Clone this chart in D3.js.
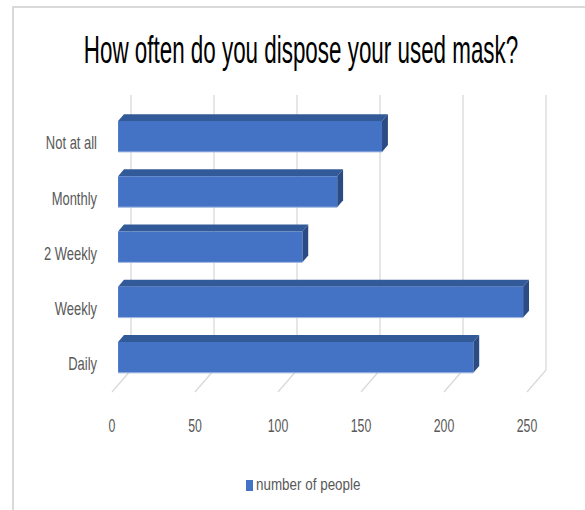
<!DOCTYPE html>
<html><head><meta charset="utf-8">
<script src="https://cdn.jsdelivr.net/npm/d3@7"></script>
<style>
html,body{margin:0;padding:0;background:#fff;}
text{font-family:"Liberation Sans",Arial,sans-serif;}
</style></head>
<body>
<svg id="c" width="585" height="510"></svg>
<script>
const categories = ["Not at all","Monthly","2 Weekly","Weekly","Daily"];
const values = [159, 132, 111, 244, 214];
const ticks = [0, 50, 100, 150, 200, 250];
const seriesName = "number of people";
const title = "How often do you dispose your used mask?";

const svg = d3.select("#c");
// chart border
svg.append("path").attr("d","M13,512 L13,7 L590,7").attr("fill","none").attr("stroke","#d9d9d9").attr("stroke-width",2);

// oblique projection
const x = d3.scaleLinear().domain([0,250]).range([112,527]);
const DX = 19, DY = -22; // full depth offset
const floorY = 392;
const wallTop = 95;
const P = (v, y, z) => [x(v) + z*DX, y + z*DY];

const g = svg.append("g");
// back wall gridlines and floor lines
ticks.forEach(t => {
  const [bx, by] = P(t, floorY, 1);
  g.append("line").attr("x1",bx).attr("x2",bx).attr("y1",wallTop).attr("y2",by)
   .attr("stroke","#d9d9d9").attr("stroke-width",1.3);
  const [fx, fy] = P(t, floorY, 0);
  g.append("line").attr("x1",bx).attr("y1",by).attr("x2",fx).attr("y2",fy)
   .attr("stroke","#d9d9d9").attr("stroke-width",1.3);
});

// bars
const yb = d3.scaleBand().domain(categories).range([108.8,385]).paddingInner(0.44).paddingOuter(0.22);
const z0 = 0.32, z1 = 0.63;
const B = (v, y, z) => [x(v) + z*DX, y + (z - z0)*DY];
const poly = pts => "M" + pts.map(p => p.join(",")).join("L") + "Z";
categories.forEach((c, i) => {
  const v = values[i];
  const top = yb(c), bot = yb(c) + yb.bandwidth();
  const f = [B(0,top,z0), B(v,top,z0), B(v,bot,z0), B(0,bot,z0)];
  const tp = [B(0,top,z0), B(v,top,z0), B(v,top,z1), B(0,top,z1)];
  const sd = [B(v,top,z0), B(v,top,z1), B(v,bot,z1), B(v,bot,z0)];
  g.append("path").attr("d",poly(tp)).attr("fill","#335a98");
  g.append("path").attr("d",poly(sd)).attr("fill","#2b4b84");
  g.append("path").attr("d",poly(f)).attr("fill","#4472c4");
  g.append("line").attr("x1",f[3][0]).attr("y1",bot).attr("x2",f[2][0]).attr("y2",bot)
    .attr("stroke","#9db5e0").attr("stroke-width",1);
  const ly = (top+bot)/2 + 8;
  g.append("text").attr("transform",`translate(97,${ly}) scale(0.81,1.15)`)
    .attr("text-anchor","end").attr("dominant-baseline","middle")
    .attr("font-size",16).attr("fill","#595959").text(c);
});

// value tick labels
ticks.forEach(t => {
  g.append("text").attr("transform",`translate(${x(t)},${427}) scale(0.88,1.3)`)
   .attr("text-anchor","middle").attr("dominant-baseline","middle")
   .attr("font-size",14).attr("fill","#595959").text(t);
});

// title
svg.append("text").attr("transform","translate(301,63) scale(0.83,1.45)")
  .attr("text-anchor","middle").attr("font-size",27).attr("fill","#000").text(title);

// legend
svg.append("rect").attr("x",246).attr("y",480).attr("width",7).attr("height",11).attr("fill","#4472c4");
svg.append("text").attr("transform","translate(256,486) scale(0.96,1.15)")
  .attr("dominant-baseline","middle").attr("font-size",14).attr("fill","#595959").text(seriesName);
</script>
</body></html>
